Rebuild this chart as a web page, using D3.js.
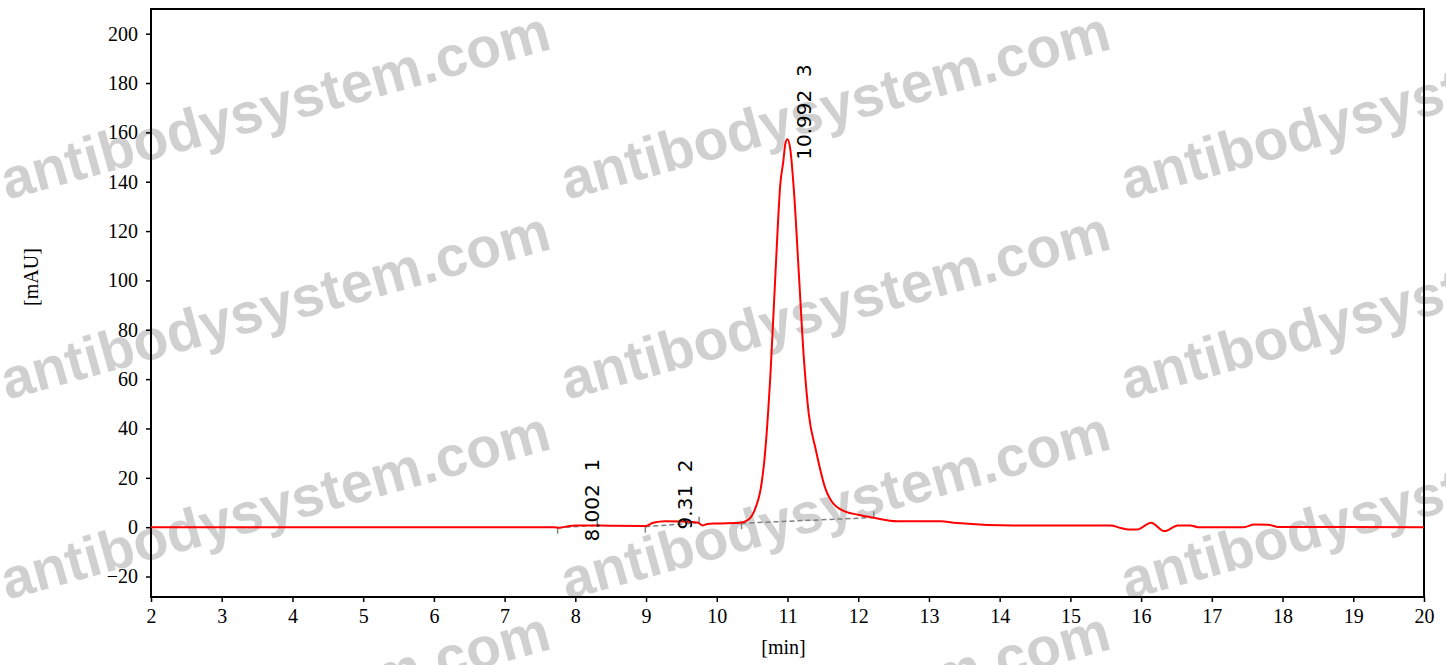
<!DOCTYPE html>
<html>
<head>
<meta charset="utf-8">
<script src="https://cdn.jsdelivr.net/npm/d3@7"></script>
<style>
  body { margin: 0; background: #fff; }
  svg { display: block; }
</style>
</head>
<body>
<svg id="chart" width="1446" height="665"></svg>
<script>
// chromatogram trace
const times = [2.0, 7.7, 7.78, 7.9, 8.0, 8.5, 8.99, 9.1, 9.27, 9.5, 9.73, 9.8, 9.87, 10.0, 10.33,
  10.45, 10.55, 10.62, 10.67, 10.76, 10.83, 10.9, 10.94, 10.97, 11.0, 11.04, 11.09, 11.16, 11.23,
  11.3, 11.4, 11.54, 11.75, 12.0, 12.22, 12.55, 13.17, 13.35, 14.2, 15.57, 15.71, 15.82, 15.95,
  16.14, 16.33, 16.52, 16.7, 16.8, 17.45, 17.6, 17.8, 17.93, 20.0];
const signal = [0, 0, -0.2, 0.4, 0.7, 0.6, 0.5, 1.8, 2.4, 2.3, 1.9, 0.7, 1.3, 1.5, 1.8,
  3.1, 8, 15.3, 26.2, 62.6, 103, 139.5, 148, 155.5, 157.2, 153, 136.7, 103, 69,
  46, 31.4, 15.3, 7.2, 5, 3.8, 2.4, 2.4, 1.8, 0.7, 0.7, -0.3, -0.9, -0.9,
  1.8, -1.6, 0.7, 0.7, 0, 0, 1.1, 1.0, 0.1, 0];

// integrated peaks
const peakTimes = [8.002, 9.31, 10.992];
const peakNumbers = [1, 2, 3];
const peakLabelAt = [-5.8, -0.9, 148.9];      // mAU where the label text starts
const baseStart = [[7.75, -0.2], [8.99, 0.2], [10.35, 1.6]];
const baseEnd = [[8.31, 0.7], [9.75, 1.8], [12.22, 3.9]];

const xTicks = d3.range(2, 21, 1);
const yTicks = d3.range(-20, 201, 20);

const W = 1446, H = 665;
const margin = { top: 9, right: 22, bottom: 68, left: 151 };

const svg = d3.select("#chart");

// watermark
const wm = svg.append("g").attr("class", "watermark");
[0, 560, 1120].forEach(cx => {
  [200, 400, 600, 800].forEach(cy => {
    wm.append("text")
      .attr("transform", `translate(${cx + 7}, ${cy}) rotate(-15.5)`)
      .attr("font-family", "Liberation Sans, Arial, sans-serif")
      .attr("font-weight", "bold")
      .attr("font-size", 57)
      .attr("fill", "#d0d0d0")
      .text("antibodysystem.com");
  });
});

const xScale = d3.scaleLinear().domain([2, 20]).range([margin.left, W - margin.right]);
const yScale = d3.scaleLinear().domain([-28.3, 210]).range([H - margin.bottom, margin.top]);

// axes
const xAxis = svg.append("g")
  .attr("transform", `translate(0, ${H - margin.bottom})`)
  .call(d3.axisBottom(xScale).tickValues(xTicks).tickFormat(d3.format("d")).tickSize(5).tickPadding(7));
const yAxis = svg.append("g")
  .attr("transform", `translate(${margin.left}, 0)`)
  .call(d3.axisLeft(yScale).tickValues(yTicks).tickFormat(d3.format("d")).tickSize(5).tickPadding(8));

[xAxis, yAxis].forEach(a => {
  a.select(".domain").remove();
  a.selectAll(".tick line").attr("stroke", "#000").attr("stroke-width", 1.5);
  a.selectAll(".tick text")
    .attr("font-family", "Liberation Serif, Times New Roman, serif")
    .attr("font-size", 20)
    .attr("fill", "#000");
});

// frame
svg.append("rect")
  .attr("x", margin.left).attr("y", margin.top)
  .attr("width", W - margin.left - margin.right)
  .attr("height", H - margin.top - margin.bottom)
  .attr("fill", "none").attr("stroke", "#000").attr("stroke-width", 2);

// axis titles
svg.append("text")
  .attr("x", (margin.left + W - margin.right) / 2 - 4).attr("y", 654)
  .attr("text-anchor", "middle")
  .attr("font-family", "Liberation Serif, Times New Roman, serif")
  .attr("font-size", 20)
  .text("[min]");
svg.append("text")
  .attr("transform", "translate(38, 277) rotate(-90)")
  .attr("text-anchor", "middle")
  .attr("font-family", "Liberation Serif, Times New Roman, serif")
  .attr("font-size", 20)
  .text("[mAU]");

// baselines of integration
const plot = svg.append("g");
peakTimes.forEach((t, i) => {
  const [t0, v0] = baseStart[i];
  const [t1, v1] = baseEnd[i];
  plot.append("line")
    .attr("x1", xScale(t0)).attr("y1", yScale(v0))
    .attr("x2", xScale(t1)).attr("y2", yScale(v1))
    .attr("stroke", "#808080").attr("stroke-width", 1.5).attr("stroke-dasharray", "5,3");
  plot.append("line")
    .attr("x1", xScale(t0)).attr("x2", xScale(t0))
    .attr("y1", yScale(v0)).attr("y2", yScale(v0) + 6)
    .attr("stroke", "#808080").attr("stroke-width", 1.5);
  plot.append("line")
    .attr("x1", xScale(t1)).attr("x2", xScale(t1))
    .attr("y1", yScale(v1)).attr("y2", yScale(v1) - 6)
    .attr("stroke", "#808080").attr("stroke-width", 1.5);
});

// trace
const trace = times.map((t, i) => [t, signal[i]]);
plot.append("path")
  .datum(trace)
  .attr("fill", "none")
  .attr("stroke", "#ff0000")
  .attr("stroke-width", 2)
  .attr("d", d3.line().x(d => xScale(d[0])).y(d => yScale(d[1])).curve(d3.curveMonotoneX));

// peak labels
peakTimes.forEach((t, i) => {
  plot.append("text")
    .attr("transform", `translate(${xScale(t) + 24}, ${yScale(peakLabelAt[i])}) rotate(-90)`)
    .attr("font-family", "DejaVu Sans, Verdana, sans-serif")
    .attr("font-size", 20)
    .attr("fill", "#000")
    .attr("xml:space", "preserve")
    .style("white-space", "pre")
    .text(`${t}  ${peakNumbers[i]}`);
});
</script>
</body>
</html>
